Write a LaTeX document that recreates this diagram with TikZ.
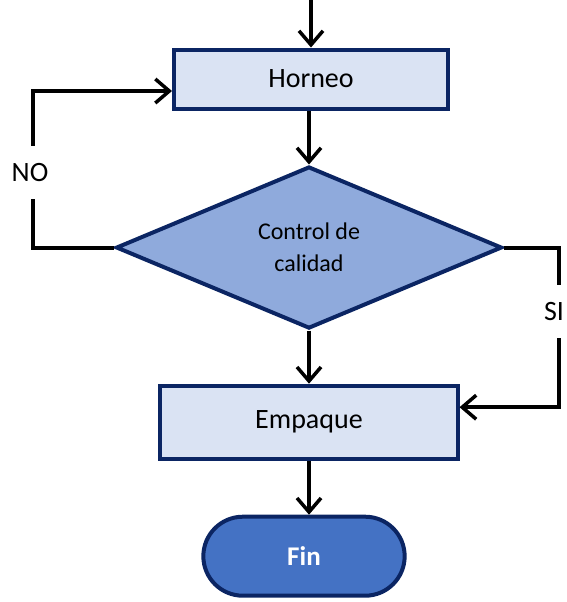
\documentclass[tikz,border=0pt]{standalone}
\usepackage{fontspec}
\setmainfont{Carlito}
\usepackage{tikz}
\usetikzlibrary{arrows.meta,shapes.geometric,shapes.misc}

\definecolor{navy}{HTML}{0B2563}
\definecolor{boxfill}{HTML}{DAE3F3}
\definecolor{decfill}{HTML}{8FAADC}
\definecolor{endfill}{HTML}{4472C4}

\begin{document}
\begin{tikzpicture}[
  x=1pt,y=1pt,
  every matrix/.style={ampersand replacement=\&,row sep=54pt},
  process/.style={draw=navy,line width=4pt,fill=boxfill,font=\fontsize{28}{32}\selectfont},
  decision/.style={diamond,draw=navy,line width=4pt,fill=decfill,align=center,
    minimum width=386pt,minimum height=162pt,inner sep=0pt,font=\fontsize{24}{32}\selectfont},
  sink/.style={rounded rectangle,draw=navy,line width=4pt,fill=endfill,text=white,
    minimum width=208pt,minimum height=79pt,font=\fontsize{27}{32}\selectfont\bfseries},
  to/.style={-{Straight Barb[length=14pt,width=24pt,line width=3.5pt]},line width=4pt},
  answer/.style={fill=white,inner xsep=3pt,inner ysep=17pt,font=\fontsize{28}{32}\selectfont}]

  \useasboundingbox (0,0) rectangle (566,-602);

  % Position the nodes using a matrix layout
  \matrix at (309,-44) [anchor=north] {
    \node[process,minimum width=274pt,minimum height=59pt,xshift=2pt] (horneo) {Horneo}; \\
    \node[decision] (control) {Control de\\calidad}; \\
    \node[process,minimum width=297pt,minimum height=73pt] (empaque) {Empaque}; \\
    \node[sink,xshift=-5pt] (fin) {Fin}; \\
  };

  \coordinate (start) at (horneo.north |- 0,0);

  % Draw the arrows between the nodes
  \draw[to] (start) -- (horneo);
  \draw[to] (horneo.south -| control) -- (control);
  \draw[to] (control) -- (empaque);
  \draw[to] (empaque) -- (fin.north -| empaque);
  \draw[to] (control.west) -- ++(-81pt,0) |- node[answer,pos=0.24,xshift=-3pt] {NO} ([yshift=-12pt]horneo.west);
  \draw[to] (control.east) -- ++(55pt,0) |- node[answer,pos=0.2,xshift=-5pt] {SI} ([yshift=15pt]empaque.east);
\end{tikzpicture}
\end{document}
